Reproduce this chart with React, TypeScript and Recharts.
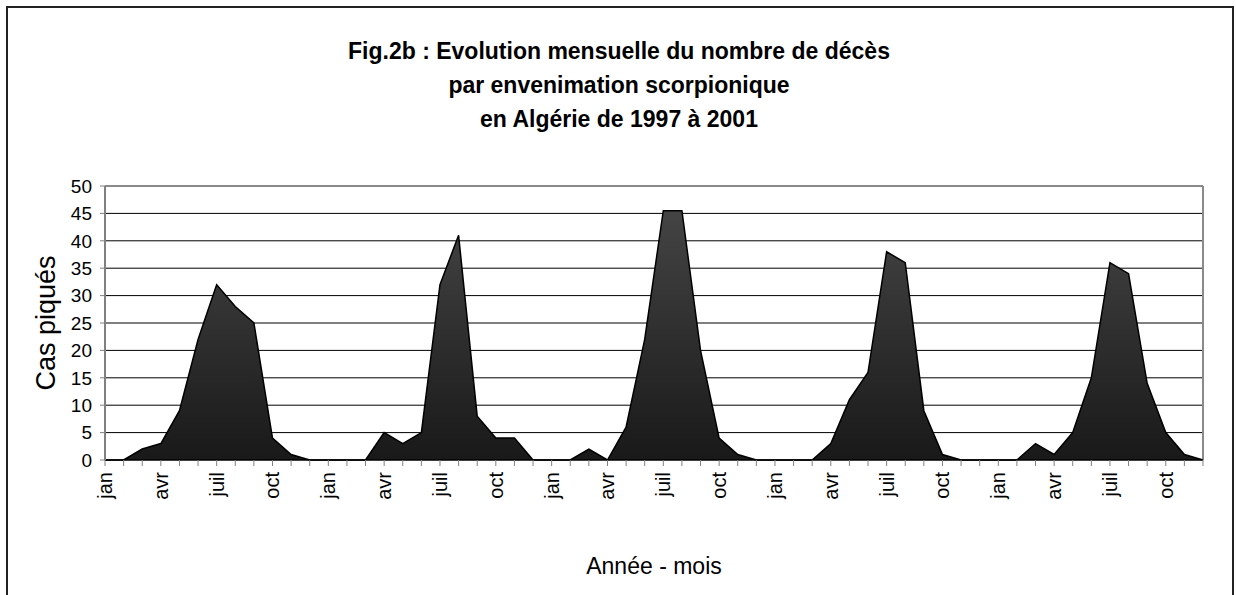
import React from "react";
import {
  AreaChart,
  Area,
  XAxis,
  YAxis,
  CartesianGrid,
  ReferenceLine,
} from "recharts";

const years = ["1997", "1998", "1999", "2000", "2001"];
const months = ["jan", "fév", "mar", "avr", "mai", "juin", "juil", "août", "sep", "oct", "nov", "déc"];
const labelledMonths = ["jan", "avr", "juil", "oct"];

// décès par mois, une liste par année
const deaths1997 = [0, 0, 2, 3, 9, 22, 32, 28, 25, 4, 1, 0];
const deaths1998 = [0, 0, 0, 5, 3, 5, 32, 41, 8, 4, 4, 0];
const deaths1999 = [0, 0, 2, 0, 6, 22, 45.5, 45.5, 20, 4, 1, 0];
const deaths2000 = [0, 0, 0, 3, 11, 16, 38, 36, 9, 1, 0, 0];
const deaths2001 = [0, 0, 3, 1, 5, 15, 36, 34, 14, 5, 1, 0];

const yTicks = [0, 5, 10, 15, 20, 25, 30, 35, 40, 45, 50];
const gridValues = [5, 10, 15, 20, 25, 30, 35, 40, 45];

const byYear = [deaths1997, deaths1998, deaths1999, deaths2000, deaths2001];
const data = years.flatMap((year, yi) =>
  months.map((month, mi) => ({
    key: `${year}-${month}`,
    month,
    deces: byYear[yi][mi],
  }))
);
const lastKey = data[data.length - 1].key;

const FONT = "'Liberation Sans', Arial, sans-serif";

const MonthTick = (props: any) => {
  const { x, y, payload } = props;
  const month = String(payload.value).split("-")[1];
  if (!labelledMonths.includes(month)) return null;
  return (
    <text
      x={x}
      y={y}
      transform={`rotate(-90, ${x}, ${y})`}
      textAnchor="end"
      dominantBaseline="central"
      fontSize={20}
      fontFamily={FONT}
      fill="#000"
    >
      {month}
    </text>
  );
};

export default function App() {
  return (
    <div
      style={{
        position: "absolute",
        left: 0,
        top: 0,
        width: 1236,
        height: 595,
        overflow: "hidden",
        background: "#fff",
        fontFamily: FONT,
      }}
    >
      <div
        style={{
          position: "absolute",
          left: 6,
          top: 6,
          width: 1224,
          height: 620,
          border: "2px solid #222",
          borderBottom: "none",
        }}
      />
      <div
        style={{
          position: "absolute",
          left: 0,
          top: 34,
          width: 1238,
          textAlign: "center",
          fontWeight: "bold",
          fontSize: 23,
          lineHeight: "34px",
          color: "#000",
        }}
      >
        <div>Fig.2b : Evolution mensuelle du nombre de décès</div>
        <div>par envenimation scorpionique</div>
        <div>en Algérie de 1997 à 2001</div>
      </div>
      <div style={{ position: "absolute", left: 0, top: 0 }}>
        <AreaChart
          width={1236}
          height={595}
          data={data}
          margin={{ top: 186, right: 33, left: 0, bottom: 0 }}
        >
          <defs>
            <linearGradient id="areaFill" x1="0" y1="0" x2="0" y2="1">
              <stop offset="0%" stopColor="#444444" />
              <stop offset="100%" stopColor="#191919" />
            </linearGradient>
          </defs>
          <CartesianGrid
            vertical={false}
            horizontalValues={gridValues}
            stroke="#000"
            strokeWidth={1}
          />
          <ReferenceLine y={50} stroke="#8a8a8a" strokeWidth={2} />
          <ReferenceLine x={lastKey} stroke="#8a8a8a" strokeWidth={2} />
          <XAxis
            dataKey="key"
            interval={0}
            height={135}
            tickSize={6}
            tickMargin={6}
            tick={<MonthTick />}
            axisLine={{ stroke: "#000", strokeWidth: 1.5 }}
            tickLine={{ stroke: "#808080" }}
            label={{
              value: "Année - mois",
              position: "insideBottom",
              offset: 21,
              style: { fontSize: 23, fontFamily: FONT, fill: "#000" },
            }}
          />
          <YAxis
            width={105}
            domain={[0, 50]}
            ticks={yTicks}
            interval={0}
            tickSize={5}
            tickMargin={8}
            axisLine={{ stroke: "#808080", strokeWidth: 2 }}
            tickLine={{ stroke: "#808080" }}
            tick={{ fontSize: 19, fontFamily: FONT, fill: "#000" }}
            label={{
              value: "Cas piqués",
              angle: -90,
              position: "insideLeft",
              offset: 45,
              style: { fontSize: 27, fontFamily: FONT, fill: "#000", textAnchor: "middle" },
            }}
          />
          <Area
            type="linear"
            dataKey="deces"
            stroke="#000"
            strokeWidth={1.5}
            fill="url(#areaFill)"
            fillOpacity={1}
            isAnimationActive={false}
          />
        </AreaChart>
      </div>
    </div>
  );
}
